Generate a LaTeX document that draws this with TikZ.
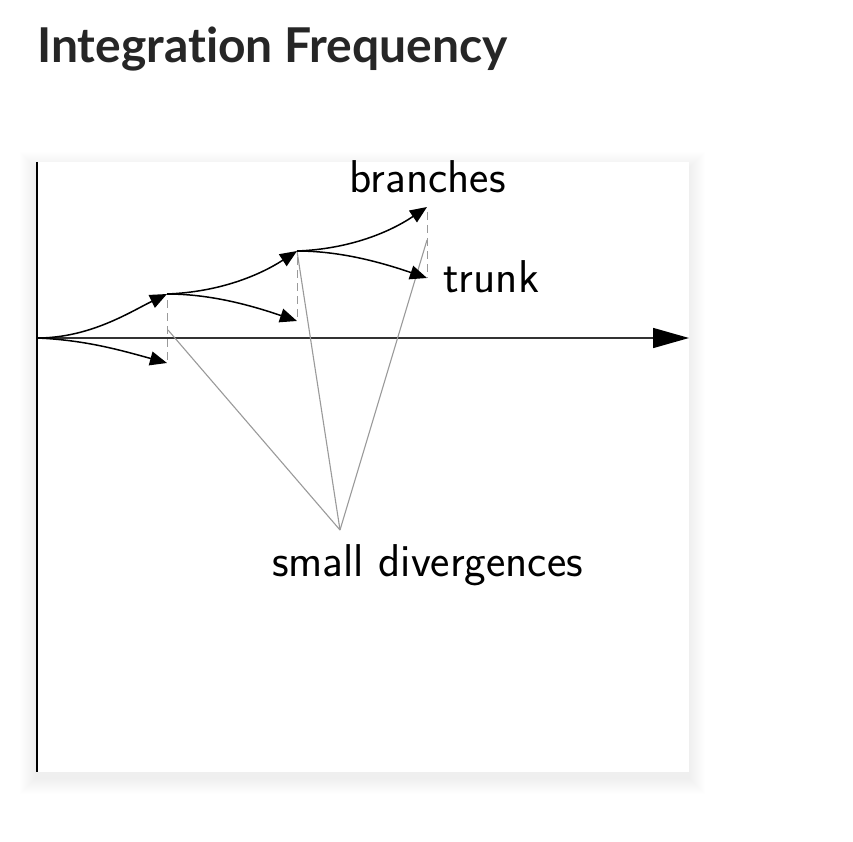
\documentclass[tikz,border=0pt]{standalone}
\usepackage{fontspec}
\newfontfamily\titlefont{Lato}[Ligatures=NoCommon]
\usetikzlibrary{arrows.meta}
\definecolor{titlegray}{HTML}{262626}
\definecolor{guide}{HTML}{9A9A9A}
\definecolor{axisgray}{HTML}{333333}
\begin{document}
\begin{tikzpicture}[x=1pt,y=-1pt,
  flow/.style={line width=1.5pt, -{Triangle[length=17pt,width=14pt]}},
  guideline/.style={guide, line width=1.1pt},
  guidedash/.style={guide, line width=1pt, dash pattern=on 8pt off 5pt},
  lbl/.style={font=\sffamily\fontsize{46}{54}\selectfont, inner sep=0pt},
]
\useasboundingbox (0,0) rectangle (853,842);
\fill[white] (0,0) rectangle (853,842);
% soft shadow of the panel
\foreach \i in {1,...,16} {
  \fill[black, opacity=0.0045] (36-\i,162-\i+6) rectangle (689+\i,772+\i+6);
}
\fill[white] (36,162) rectangle (689,772);

% title
\node[anchor=base west, inner sep=0pt, text=titlegray,
      font=\titlefont\bfseries\fontsize{48}{56}\selectfont] (title) at (37,63) {Integration Frequency};

% points
\coordinate (o) at (37,338);
\coordinate (xend) at (689,338);
\coordinate (ytop) at (37,162);
\coordinate (ybot) at (37,772);
\coordinate (a1) at (167,294);
\coordinate (b1) at (167,363);
\coordinate (a2) at (297,251);
\coordinate (b2) at (297,321);
\coordinate (a3) at (427,207);
\coordinate (b3) at (427,278);
\coordinate (d) at (340,530);
\coordinate (g1) at (168,330);
\coordinate (g3) at (427,240);

% axes
\draw[line width=2pt, black] (ytop) -- (ybot);
\draw[line width=1.5pt, axisgray, -{Triangle[length=36pt,width=20pt,color=black]}] (o) -- (xend);

% guide lines
\draw[guidedash] ([yshift=-6pt]a1) -- (b1);
\draw[guidedash] ([yshift=-6pt]a2) -- (b2);
\draw[guidedash] ([yshift=-5pt]a3) -- (b3);
\draw[guideline] (d) -- (g1);
\draw[guideline] (d) -- (a2);
\draw[guideline] (d) -- (g3);

% flows
\draw[flow] (o) .. controls (90,338) and (130,312) .. (a1);
\draw[flow] (o) .. controls (85,340) and (120,350) .. (b1);
\draw[flow] (a1) .. controls (220,292) and (260,275) .. (a2);
\draw[flow] (a1) .. controls (210,294) and (250,305) .. (b2);
\draw[flow] (a2) .. controls (350,249) and (390,232) .. (a3);
\draw[flow] (a2) .. controls (340,251) and (380,262) .. (b3);

% labels
\node[lbl, anchor=base] (br) at (427.5,193) {branches};
\node[lbl, anchor=base west] (tr) at (443,292) {trunk};
\node[lbl, anchor=base] (sd) at (427.5,576) {small divergences};
\end{tikzpicture}
\end{document}
